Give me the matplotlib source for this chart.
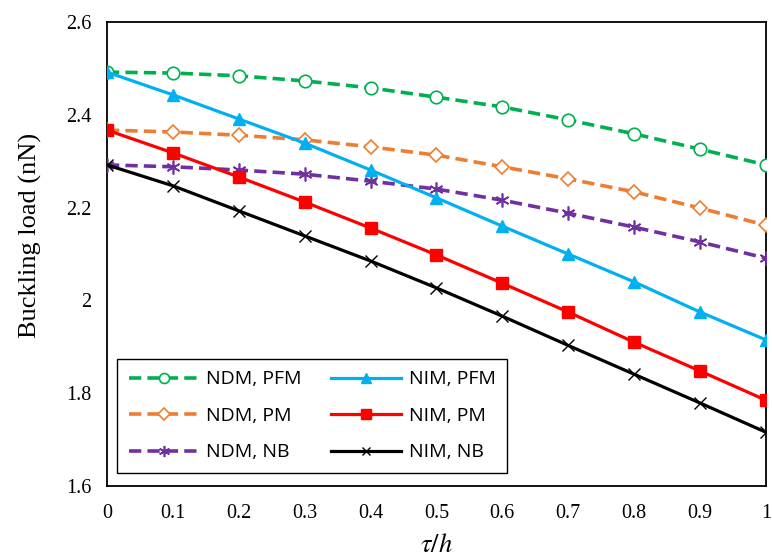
import matplotlib.pyplot as plt

plt.rcParams['mathtext.fontset'] = 'stix'

# tau/h values
tau = [0, 0.1, 0.2, 0.3, 0.4, 0.5, 0.6, 0.7, 0.8, 0.9, 1.0]

# buckling load (nN)
ndm_pfm = [2.492, 2.490, 2.484, 2.473, 2.458, 2.438, 2.417, 2.389, 2.359, 2.326, 2.292]
nim_pfm = [2.492, 2.443, 2.391, 2.339, 2.281, 2.221, 2.160, 2.100, 2.040, 1.975, 1.915]
ndm_pm = [2.367, 2.363, 2.356, 2.346, 2.331, 2.313, 2.288, 2.262, 2.234, 2.199, 2.162]
nim_pm = [2.367, 2.318, 2.266, 2.212, 2.156, 2.098, 2.037, 1.975, 1.910, 1.848, 1.785]
ndm_nb = [2.292, 2.288, 2.281, 2.272, 2.257, 2.240, 2.216, 2.188, 2.158, 2.126, 2.091]
nim_nb = [2.292, 2.247, 2.193, 2.139, 2.085, 2.027, 1.966, 1.903, 1.841, 1.779, 1.716]

x_ticks = [0, 0.1, 0.2, 0.3, 0.4, 0.5, 0.6, 0.7, 0.8, 0.9, 1]
x_labels = ['0', '0.1', '0.2', '0.3', '0.4', '0.5', '0.6', '0.7', '0.8', '0.9', '1']
y_ticks = [1.6, 1.8, 2.0, 2.2, 2.4, 2.6]
y_labels = ['1.6', '1.8', '2', '2.2', '2.4', '2.6']

fig = plt.figure(figsize=(7.72, 5.58), dpi=100)
ax = fig.add_axes([0.1386, 0.129, 0.8534, 0.8316])

dash = (0, (3.4, 1.7))
l1, = ax.plot(tau, ndm_pfm, linestyle=dash, color='#00B050', lw=2.6,
              marker='o', ms=9, mfc='white', mec='#00B050', mew=1.2, label='NDM, PFM', zorder=3)
l3, = ax.plot(tau, ndm_pm, linestyle=dash, color='#ED7D31', lw=2.6,
              marker='D', ms=7.5, mfc='white', mec='#ED7D31', mew=1.2, label='NDM, PM', zorder=3)
l5, = ax.plot(tau, ndm_nb, linestyle=dash, color='#7030A0', lw=2.6,
              marker=(6, 2, 0), ms=10, mec='#7030A0', mew=1.2, label='NDM, NB', zorder=3)
l2, = ax.plot(tau, nim_pfm, '-', color='#00B0F0', lw=2.3,
              marker='^', ms=9, mfc='#00B0F0', mec='#00B0F0', label='NIM, PFM', zorder=4)
l4, = ax.plot(tau, nim_pm, '-', color='#FF0000', lw=2.3,
              marker='s', ms=9, mfc='#FF0000', mec='#FF0000', label='NIM, PM', zorder=4)
l6, = ax.plot(tau, nim_nb, '-', color='black', lw=2.3,
              marker='x', ms=8, mec='black', mew=1.0, label='NIM, NB', zorder=4)

ax.set_xlim(0, 1)
ax.set_ylim(1.6, 2.6)
ax.set_xticks(x_ticks)
ax.set_xticklabels(x_labels, fontfamily='Liberation Serif', fontsize=14.5)
ax.set_yticks(y_ticks)
ax.set_yticklabels(y_labels, fontfamily='Liberation Serif', fontsize=14.5)
ax.tick_params(axis='x', length=0, pad=13)
ax.tick_params(axis='y', length=0, pad=11)
for s in ax.spines.values():
    s.set_color('black')
    s.set_linewidth(1.3)

ax.set_ylabel('Buckling load (nN)', fontfamily='Liberation Serif', fontsize=19)
ax.yaxis.set_label_coords(-0.099, 0.541)
ax.set_xlabel(r'$\tau/h$', fontsize=19)
ax.xaxis.set_label_coords(0.5, -0.1)

leg = ax.legend(handles=[l1, l3, l5, l2, l4, l6], ncol=2, loc='lower left',
                bbox_to_anchor=(0.0152, 0.028), borderaxespad=0,
                prop={'family': 'Open Sans', 'size': 14},
                fancybox=False, framealpha=1, edgecolor='black', handlelength=3.6,
                handletextpad=0.4, markerscale=0.8,
                labelspacing=0.95, columnspacing=1.5, borderpad=0.6)
leg.get_frame().set_linewidth(1.0)

fig.savefig('out.png', dpi=100)
